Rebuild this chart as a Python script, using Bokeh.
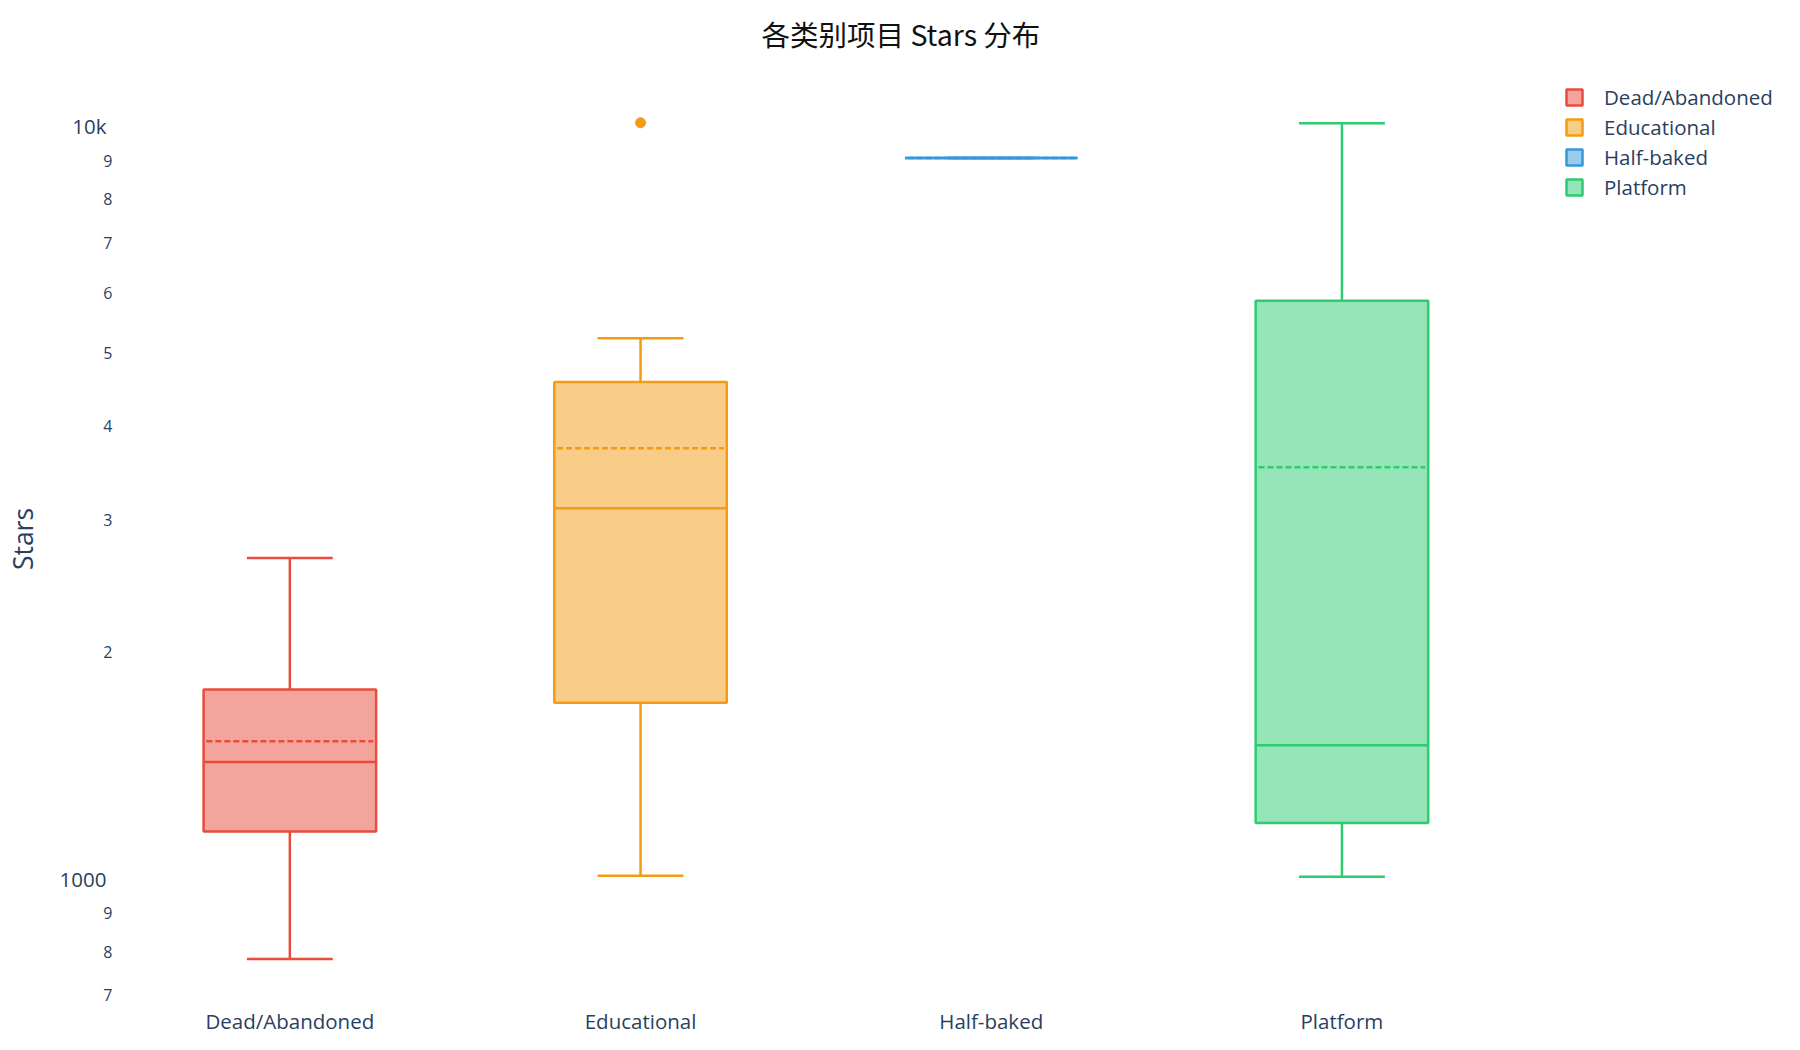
from bokeh.plotting import figure
from bokeh.models import (ColumnDataSource, Range1d, LogAxis,
                          FixedTicker, Legend, LegendItem)
from bokeh.transform import dodge
from bokeh.embed import file_html
from bokeh.resources import INLINE

# ---------------- data ----------------
categories = ["Dead/Abandoned", "Educational", "Half-baked", "Platform"]
colors = ["#e74c3c", "#f39c12", "#3498db", "#2ecc71"]
lower_whisker = [782, 1009, 9077, 1006]
q1 = [1156, 1714, 9077, 1186]
median = [1430, 3107, 9077, 1505]
q3 = [1784, 4576, 9077, 5868]
upper_whisker = [2669, 5231, 9077, 10102]
mean = [1523, 3736, 9077, 3525]
outlier_index = [1]          # Educational
outlier_vals = [10114]
outlier_colors = ["#f39c12"]

minor_tick_values = [700, 800, 900, 2000, 3000, 4000, 5000, 6000, 7000, 8000, 9000]
minor_tick_labels = ["7", "8", "9", "2", "3", "4", "5", "6", "7", "8", "9"]
major_tick_values = [1000, 10000]
major_tick_labels = ["1000", "10k"]
y_start, y_end = 662, 12089
x_start, x_end = -0.5, 4.262   # categories sit at 0..3; space on the right holds the legend

TITLE = "各类别项目 Stars 分布"
FONT = "Open Sans"
TXT = "#2a3f5f"

cat_pos = list(range(len(categories)))
source = ColumnDataSource(dict(x=cat_pos, cat=categories, color=colors, lower=lower_whisker,
                               q1=q1, med=median, q3=q3, upper=upper_whisker, mean=mean))
out_src = ColumnDataSource(dict(x=outlier_index, val=outlier_vals, color=outlier_colors))

p = figure(width=1784, height=1041,
           x_range=Range1d(x_start, x_end),
           y_range=Range1d(y_start, y_end), y_axis_type="log",
           output_backend="svg", toolbar_location=None,
           min_border_left=114, min_border_right=0,
           min_border_top=63, min_border_bottom=28,
           title=TITLE)
p.outline_line_color = None
p.background_fill_color = "white"
p.border_fill_color = "white"
p.xgrid.grid_line_color = None
p.ygrid.grid_line_color = None

# title
p.title.text_font = "Noto Sans CJK SC"
p.title.text_font_size = "28.5px"
p.title.text_font_style = "normal"
p.title.text_color = "#111111"
p.title.align = "left"
p.title.offset = 647
p.title.standoff = 21

# x axis (category names at the category positions)
xa = p.below[0]
xa.ticker = FixedTicker(ticks=cat_pos, minor_ticks=[])
xa.major_label_overrides = dict(zip(cat_pos, categories))
xa.axis_line_color = None
xa.major_tick_line_color = None
xa.minor_tick_line_color = None
xa.major_tick_out = 0
xa.minor_tick_out = 0
xa.major_label_text_font = FONT
xa.major_label_text_font_size = "20.5px"
xa.major_label_text_color = TXT
xa.major_label_standoff = -7

# inner y axis: small digit labels
ya = p.left[0]
ya.ticker = FixedTicker(ticks=minor_tick_values, minor_ticks=[])
ya.major_label_overrides = dict(zip(minor_tick_values, minor_tick_labels))
ya.axis_line_color = None
ya.major_tick_line_color = None
ya.minor_tick_line_color = None
ya.major_tick_out = 0
ya.minor_tick_out = 0
ya.major_label_text_font = FONT
ya.major_label_text_font_size = "16px"
ya.major_label_text_color = TXT
ya.major_label_standoff = 2

# outer y axis: decade labels + axis title
yb = LogAxis(ticker=FixedTicker(ticks=major_tick_values, minor_ticks=[]),
             major_label_overrides=dict(zip(major_tick_values, major_tick_labels)),
             axis_label="Stars")
yb.axis_line_color = None
yb.major_tick_line_color = None
yb.minor_tick_line_color = None
yb.major_tick_out = 0
yb.minor_tick_out = 0
yb.major_label_text_font = FONT
yb.major_label_text_font_size = "20.5px"
yb.major_label_text_color = TXT
yb.major_label_standoff = -6
yb.axis_label_text_font = FONT
yb.axis_label_text_font_size = "26.5px"
yb.axis_label_text_font_style = "normal"
yb.axis_label_text_color = TXT
yb.axis_label_standoff = 16
p.add_layout(yb, "left")

LW = 2.5
BOX_W = 0.492
CAP = 0.1225

box = p.vbar(x="x", width=BOX_W, bottom="q1", top="q3", source=source,
             fill_color="color", fill_alpha=0.5, line_color="color", line_width=LW)
p.segment(x0="x", x1="x", y0="q3", y1="upper", source=source,
          line_color="color", line_width=LW)
p.segment(x0="x", x1="x", y0="lower", y1="q1", source=source,
          line_color="color", line_width=LW)
p.segment(x0=dodge("x", -CAP), x1=dodge("x", CAP),
          y0="upper", y1="upper", source=source, line_color="color", line_width=LW)
p.segment(x0=dodge("x", -CAP), x1=dodge("x", CAP),
          y0="lower", y1="lower", source=source, line_color="color", line_width=LW)
p.segment(x0=dodge("x", -BOX_W / 2), x1=dodge("x", BOX_W / 2),
          y0="med", y1="med", source=source, line_color="color", line_width=LW)
p.segment(x0=dodge("x", -BOX_W / 2 + 0.008), x1=dodge("x", BOX_W / 2 - 0.008),
          y0="mean", y1="mean", source=source, line_color="color", line_width=LW,
          line_dash="6 3")
p.scatter(x="x", y="val", source=out_src, size=10, fill_color="color",
          line_color="color")

legend = Legend(items=[LegendItem(label=c, renderers=[box], index=i)
                       for i, c in enumerate(categories)])
legend.location = (1450, 812)
legend.margin = 0
legend.padding = 5
legend.spacing = 2
legend.glyph_width = 20
legend.glyph_height = 20
legend.label_height = 20
legend.label_standoff = 20
legend.label_text_font = FONT
legend.label_text_font_size = "20.5px"
legend.label_text_color = TXT
legend.border_line_color = None
legend.background_fill_alpha = 0
p.add_layout(legend)

open("out.html", "w").write(file_html(p, INLINE))
